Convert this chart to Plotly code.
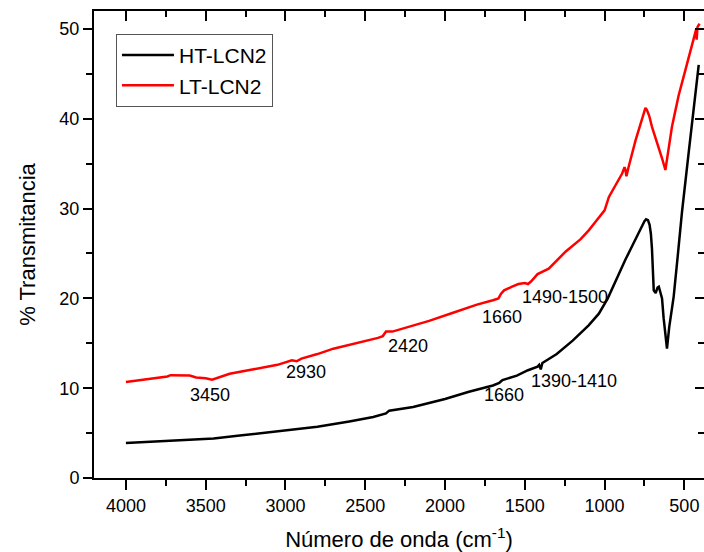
import plotly.graph_objects as go

# FTIR spectra: wavenumber (cm-1) vs % transmittance
ht_wavenumber = [4000, 3800, 3600, 3450, 3300, 3100, 2930, 2800, 2600, 2450, 2370, 2350,
                 2200, 2000, 1850, 1700, 1660, 1640, 1550, 1480, 1420, 1410, 1400, 1390,
                 1300, 1200, 1100, 1036, 980, 911, 870, 828, 790, 765, 750, 740, 728,
                 718, 710, 703, 697, 692, 680, 668, 660, 650, 640, 630, 620, 609,
                 595, 567, 540, 515, 472, 442, 410]
ht_transmittance = [3.9, 4.1, 4.3, 4.4, 4.7, 5.1, 5.45, 5.7, 6.3, 6.8, 7.2, 7.5,
                    7.9, 8.8, 9.6, 10.3, 10.6, 10.9, 11.4, 12.0, 12.4, 12.6, 12.1, 12.8,
                    13.8, 15.3, 17.0, 18.3, 20.0, 22.8, 24.3, 25.8, 27.2, 28.1, 28.6, 28.8, 28.7,
                    28.2, 27.2, 25.5, 22.5, 20.9, 20.6, 21.2, 21.3, 20.6, 20.0, 17.8, 15.8, 14.4,
                    16.8, 20.2, 25.0, 29.6, 36.4, 41.0, 46.0]

lt_wavenumber = [4000, 3900, 3800, 3740, 3720, 3650, 3600, 3560, 3500, 3460, 3420, 3350,
                 3200, 3050, 2960, 2930, 2900, 2800, 2700, 2550, 2420, 2390, 2370, 2330,
                 2250, 2100, 1950, 1800, 1700, 1665, 1650, 1630, 1580, 1540, 1500, 1480,
                 1460, 1420, 1350, 1300, 1245, 1150, 1098, 1058, 1000, 973, 921, 890, 875, 869,
                 863, 850, 806, 770, 752, 744, 735, 720, 703, 680, 660, 640, 619, 600, 578, 560,
                 536, 500, 472, 445, 431, 427, 423, 418, 405]
lt_transmittance = [10.7, 10.9, 11.1, 11.3, 11.45, 11.45, 11.4, 11.2, 11.1, 10.95, 11.2, 11.6,
                    12.1, 12.6, 13.1, 13.0, 13.3, 13.8, 14.4, 15.0, 15.6, 15.8, 16.3, 16.3,
                    16.7, 17.5, 18.4, 19.3, 19.8, 20.0, 20.5, 20.9, 21.3, 21.6, 21.7, 21.6,
                    21.9, 22.7, 23.3, 24.2, 25.2, 26.6, 27.6, 28.5, 29.8, 31.3, 33.0, 33.9, 34.6, 34.3,
                    33.6, 34.6, 37.6, 39.8, 40.9, 41.2, 41.0, 40.3, 39.1, 37.8, 36.9, 35.6, 34.3, 36.6, 39.1, 40.6,
                    42.6, 45.0, 46.9, 48.6, 49.5, 49.9, 48.8, 50.2, 50.6]

# Band labels: text, wavenumber, transmittance
band_text = ["3450", "2930", "2420", "1660", "1490-1500", "1660", "1390-1410"]
band_x = [3475, 2870, 2230, 1640, 1250, 1630, 1190]
band_y = [9.2, 11.8, 14.7, 17.9, 20.1, 9.2, 10.8]

x_ticks = [4000, 3500, 3000, 2500, 2000, 1500, 1000, 500]
y_ticks = [0, 10, 20, 30, 40, 50]

FONT = "Liberation Sans, Arial, sans-serif"

fig = go.Figure()
fig.add_trace(go.Scatter(x=ht_wavenumber, y=ht_transmittance, mode="lines", name="HT-LCN2",
                         line=dict(color="#000000", width=2.5)))
fig.add_trace(go.Scatter(x=lt_wavenumber, y=lt_transmittance, mode="lines", name="LT-LCN2",
                         line=dict(color="#ff0000", width=2.5)))
# empty trace that carries the mirrored top/right axes
fig.add_trace(go.Scatter(x=[], y=[], xaxis="x2", yaxis="y2", showlegend=False, hoverinfo="skip"))

for t, xv, yv in zip(band_text, band_x, band_y):
    fig.add_annotation(x=xv, y=yv, text=t, showarrow=False,
                       font=dict(family=FONT, size=18, color="#000000"))

x_range = [4200, 377]
y_range = [0, 52]

fig.update_layout(
    width=704, height=552,
    margin=dict(l=94, r=0, t=11, b=74),
    paper_bgcolor="white", plot_bgcolor="white",
    font=dict(family=FONT, color="#000000"),
    showlegend=True,
    legend=dict(x=0.036, y=0.951, xanchor="left", yanchor="top",
                bgcolor="white", bordercolor="#555555", borderwidth=1,
                font=dict(family=FONT, size=21, color="#000000"),
                itemwidth=52, tracegroupgap=0),
    xaxis=dict(range=x_range, tickvals=x_ticks, ticks="outside", ticklen=10, tickwidth=2,
               tickcolor="#000000", showline=True, linewidth=2, linecolor="#000000",
               showgrid=False, zeroline=False, tickfont=dict(size=18),
               minor=dict(dtick=250, tick0=0, ticks="outside", ticklen=6, tickwidth=2,
                          tickcolor="#000000", showgrid=False),
               title=dict(text="Número de onda (cm<sup>-1</sup>)", font=dict(size=22), standoff=18)),
    yaxis=dict(range=y_range, tickvals=y_ticks, ticks="outside", ticklen=9, tickwidth=2,
               tickcolor="#000000", showline=True, linewidth=2, linecolor="#000000",
               showgrid=False, zeroline=False, tickfont=dict(size=18),
               minor=dict(dtick=5, tick0=0, ticks="outside", ticklen=6, tickwidth=2,
                          tickcolor="#000000", showgrid=False),
               title=dict(text="% Transmitancia", font=dict(size=22), standoff=18)),
    xaxis2=dict(range=x_range, overlaying="x", side="top", anchor="y", tickvals=x_ticks,
                ticks="inside", ticklen=10, tickwidth=2, tickcolor="#000000",
                showticklabels=False, showline=True, linewidth=2, linecolor="#000000",
                showgrid=False, zeroline=False,
                minor=dict(dtick=250, tick0=0, ticks="inside", ticklen=6, tickwidth=2,
                           tickcolor="#000000", showgrid=False)),
    yaxis2=dict(range=y_range, overlaying="y", side="right", anchor="x", tickvals=y_ticks,
                ticks="inside", ticklen=9, tickwidth=2, tickcolor="#000000",
                showticklabels=False, showline=True, linewidth=2, linecolor="#000000",
                showgrid=False, zeroline=False,
                minor=dict(dtick=5, tick0=0, ticks="inside", ticklen=6, tickwidth=2,
                           tickcolor="#000000", showgrid=False)),
)

fig.write_html("out.html")
